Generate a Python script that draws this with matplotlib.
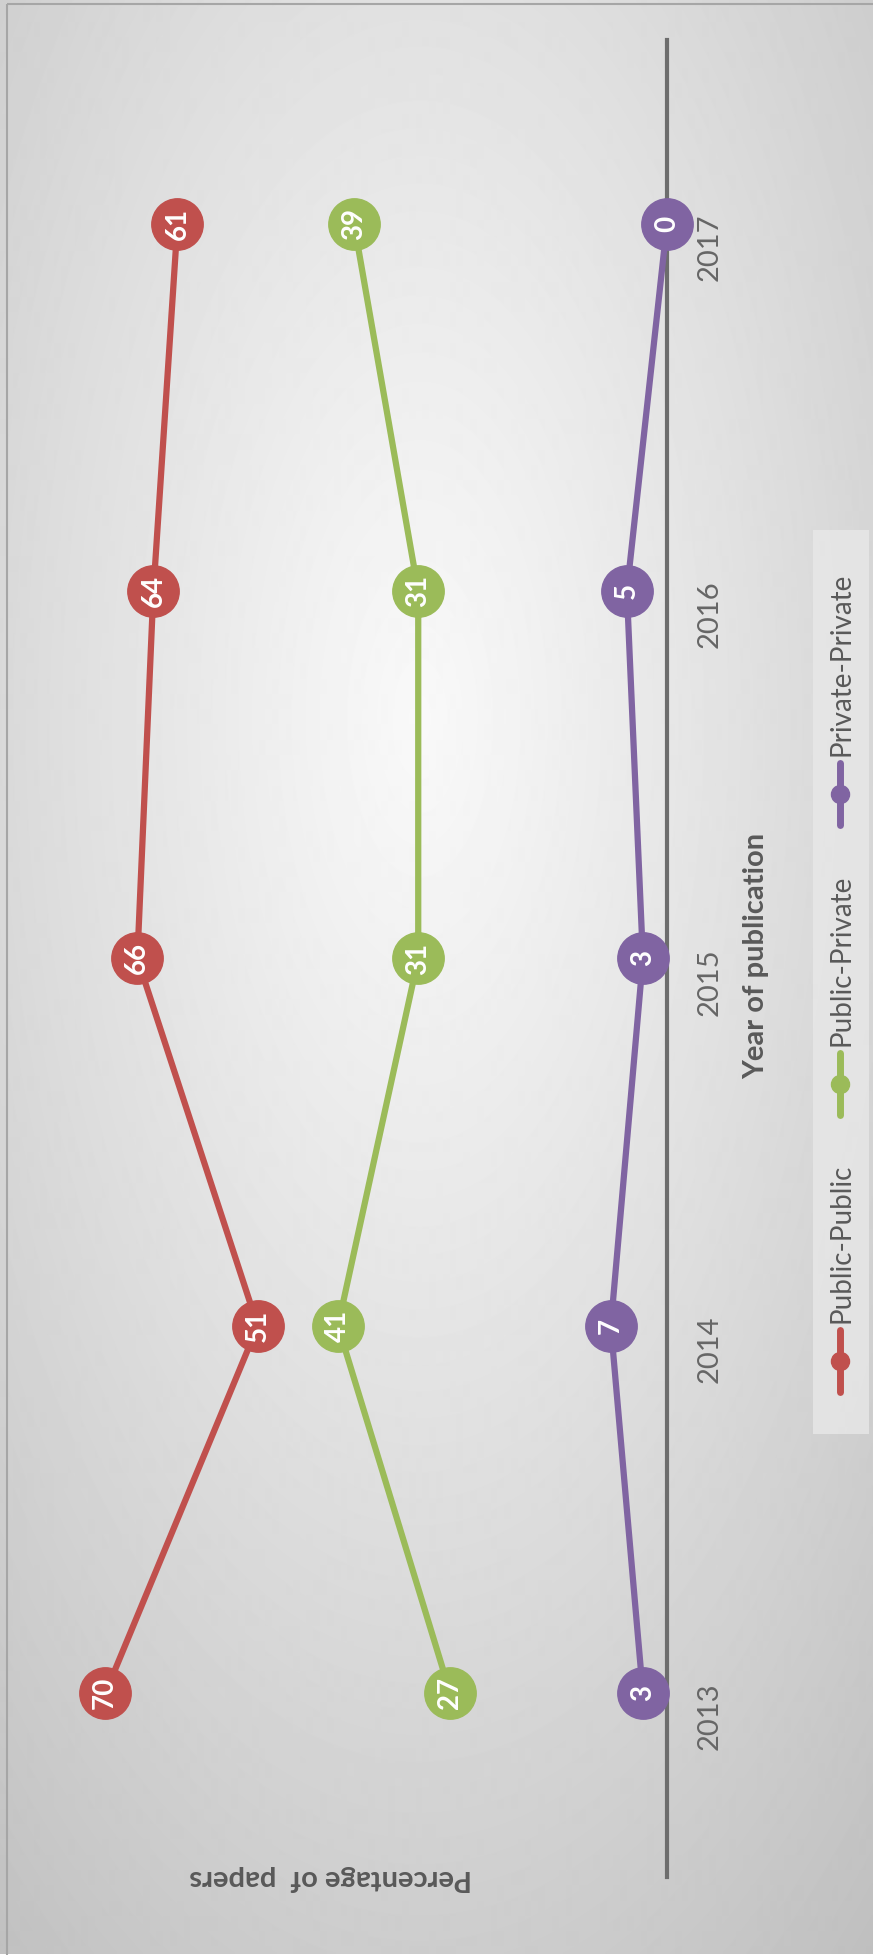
import matplotlib.pyplot as plt
from matplotlib.lines import Line2D
from matplotlib.patches import Rectangle
import numpy as np

plt.rcParams['font.family'] = ['Lato', 'DejaVu Sans']

# data
years = ['2013', '2014', '2015', '2016', '2017']
public_public = [70, 51, 66, 64, 61]
public_private = [27, 41, 31, 31, 39]
private_private = [3, 7, 3, 5, 0]
series_names = ['Public-Public', 'Public-Private', 'Private-Private']
colors = ['#C0504D', '#9BBB59', '#8064A2']
series = [public_public, public_private, private_private]

W, H = 873, 1955
fig = plt.figure(figsize=(W / 100, H / 100), dpi=100)

# radial gray background
bg = fig.add_axes([0, 0, 1, 1], zorder=-5)
yy, xx = np.mgrid[0:H, 0:W]
d = np.sqrt(((xx - 420) / 620.0) ** 2 + ((yy - 720) / 1350.0) ** 2)
img = 0.975 - 0.19 * np.clip(d, 0, 1.3) ** 1.1
bg.imshow(img, cmap='gray', vmin=0, vmax=1, aspect='auto', interpolation='bilinear')
bg.add_patch(Rectangle((7, 4), W, H, fill=False, edgecolor='#a6a6a6', lw=1.5))
bg.set_xlim(0, W)
bg.set_ylim(H, 0)
bg.axis('off')

# chart drawn rotated: values run right-to-left, years bottom-to-top
ax = fig.add_axes([25 / W, 78 / H, 642 / W, 1837 / H])
ax.set_facecolor('none')
pos = np.arange(len(years))
for vals, c in zip(series, colors):
    ax.plot(vals, pos, color=c, lw=4.5, marker='o', ms=37, clip_on=False, zorder=3)
    for v, p in zip(vals, pos):
        ax.text(v, p, str(v), rotation=90, ha='center', va='center', color='white',
                fontsize=20, fontweight='bold', zorder=4)

ax.set_xlim(80, 0)
ax.set_ylim(-0.5, len(years) - 0.5)
for s in ['left', 'top', 'bottom']:
    ax.spines[s].set_visible(False)
ax.spines['right'].set_color('#6d6d6d')
ax.spines['right'].set_linewidth(3)
ax.set_xticks([])
ax.yaxis.tick_right()
ax.set_yticks(pos)
ax.set_yticklabels(years, rotation=90, fontsize=21, color='#666666')
ax.tick_params(axis='y', length=0, pad=21)

fig.text(756 / W, 1 - 956 / H, 'Year of publication', rotation=90, ha='center', va='center',
         fontsize=21, fontweight='bold', color='#595959')
fig.text(331 / W, 1 - 1878 / H, 'Percentage of  papers', rotation=180, ha='center', va='center',
         fontsize=21, fontweight='bold', color='#595959')

# legend (rotated)
bg.add_patch(Rectangle((813, 530), 56, 904, facecolor='#e8e8e8', edgecolor='none', alpha=0.8))
leg_y = [1361, 1084, 794]
for name, c, ly in zip(series_names, colors, leg_y):
    bg.add_line(Line2D([840, 840], [ly + 31, ly - 31], color=c, lw=5, solid_capstyle='round'))
    bg.plot([840], [ly], marker='o', ms=13, color=c)
    bg.text(842, ly - 38, name, rotation=90, ha='center', va='bottom', fontsize=20,
            color='#595959')

fig.savefig('out.png', dpi=100)
